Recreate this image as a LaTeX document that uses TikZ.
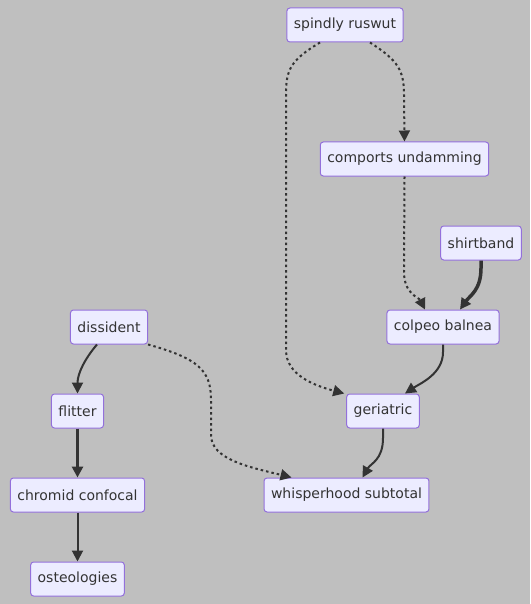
\documentclass[tikz,border=0pt]{standalone}
\usepackage{fontspec}
\setmainfont{DejaVu Sans}
\usetikzlibrary{arrows.meta, positioning}

\definecolor{bgGray}{HTML}{BFBFBF}
\definecolor{boxFill}{HTML}{ECECFF}
\definecolor{boxLine}{HTML}{9370DB}
\definecolor{edgeLine}{HTML}{333333}

\tikzset{
  box/.style={draw=boxLine, fill=boxFill, line width=1pt, rounded corners=3pt,
    minimum height=34pt, inner xsep=7pt, font=\fontsize{14}{16}\selectfont, text=edgeLine},
  link/.style={draw=edgeLine, line width=2pt, -{Triangle[length=11pt,width=11pt]}},
  heavylink/.style={link, line width=3.5pt},
  dotlink/.style={link, dash pattern=on 2.5pt off 3pt},
}

\begin{document}
\begin{tikzpicture}[x=1pt,y=-1pt]
      \fill[bgGray] (0,0) rectangle (530,604);
      \useasboundingbox (0,0) rectangle (530,604);

      \node[box] (q_0) at (345,25)    {spindly ruswut};
      \node[box] (q_1) at (404.5,159) {comports undamming};
      \node[box] (q_2) at (481,243)   {shirtband};
      \node[box] (q_3) at (443,327)   {colpeo balnea};
      \node[box] (q_4) at (109,327)   {dissident};
      \node[box] (q_5) at (383,411)   {geriatric};
      \node[box] (q_6) at (77.5,411)  {flitter};
      \node[box] (q_7) at (77.5,495)  {chromid confocal};
      \node[box] (q_8) at (346.5,495) {whisperhood subtotal};
      \node[box] (q_9) at (77.5,579)  {osteologies};

      % dotted links
      \draw[dotlink] ([xshift=25pt]q_0.south) .. controls +(28,18) and +(0,-25) .. ([xshift=-0.5pt]q_1.north |- 0,95) -- (q_1.north);
      \draw[dotlink] ([xshift=-25pt]q_0.south) .. controls +(-30,18) and +(0,-25) .. (286,95) -- (286,350) .. controls +(0,25) and +(-30,-8) .. ([xshift=-2pt]q_5.north west);
      \draw[dotlink] (q_1.south) -- (404,272) .. controls +(0,22) and +(-6,-12) .. ([xshift=-18pt]q_3.north);
      \draw[dotlink] (q_4.south east) .. controls +(50,14) and +(0,-30) .. (211,400) -- (211,435) .. controls +(0,25) and +(-40,-10) .. ([xshift=-55pt]q_8.north);

      % solid links
      \draw[heavylink] (q_2.south) -- (481,268) .. controls +(0,22) and +(10,-14) .. ([xshift=17pt]q_3.north);
      \draw[link] (q_3.south) -- (443,352) .. controls +(0,22) and +(15,-10) .. ([xshift=22pt]q_5.north);
      \draw[link] ([xshift=-12pt]q_4.south) .. controls +(-12,14) and +(0,-20) .. (q_6.north);
      \draw[link] (q_5.south) -- (383,438) .. controls +(0,22) and +(8,-14) .. ([xshift=16pt]q_8.north);
      \draw[heavylink] (q_6.south) -- (q_7.north);
      \draw[link] (q_7.south) -- (q_9.north);
\end{tikzpicture}
\end{document}
